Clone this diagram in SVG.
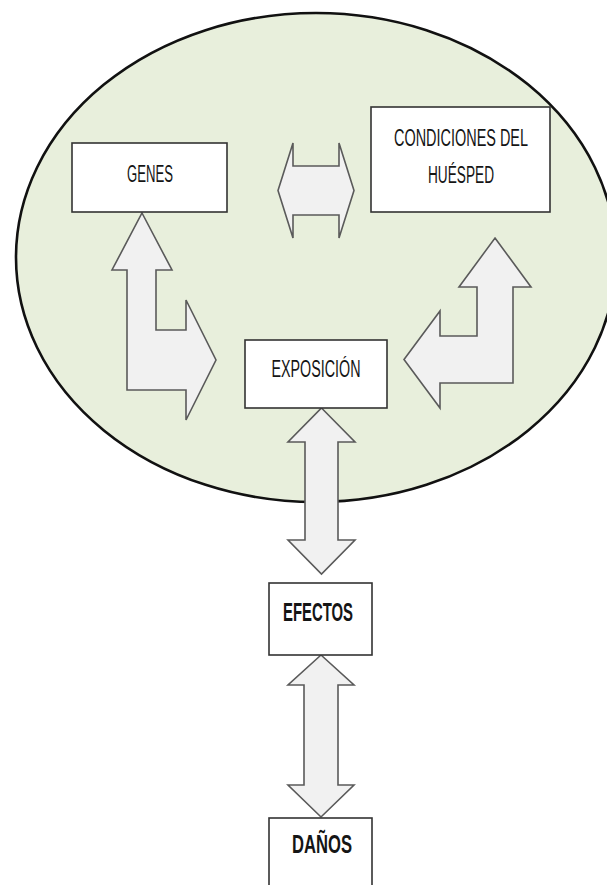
<svg xmlns="http://www.w3.org/2000/svg" width="607" height="885" viewBox="0 0 607 885">
  <style>
    .box { fill: #ffffff; stroke: #333333; stroke-width: 1.6; }
    .arrow { fill: #f1f1f1; stroke: #5a5a5a; stroke-width: 1.6; stroke-linejoin: miter; }
    .lbl { font-family: "Liberation Sans", Arial, sans-serif; font-size: 23px; fill: #151515; text-anchor: middle; }
    .bold { font-weight: bold; font-size: 26px; }
  </style>

  <rect x="0" y="0" width="607" height="885" fill="#ffffff"/>

  <!-- surrounding context area -->
  <g id="context">
    <ellipse cx="316" cy="257.5" rx="300" ry="244.5" fill="#e8efdc" stroke="#111111" stroke-width="2.6"/>
  </g>

  <!-- block arrows linking the nodes -->
  <g id="connectors">
    <!-- GENES <-> CONDICIONES DEL HUÉSPED -->
    <polygon class="arrow" points="278,190.5 293,143 293,166 339,166 339,143 354,190.5 339,238 339,215 293,215 293,238"/>
    <!-- GENES <-> EXPOSICIÓN -->
    <polygon class="arrow" points="142,213 172,270 156,270 156,330 186,330 186,300 216,360 186,420 186,390 127,390 127,270 112,270"/>
    <!-- EXPOSICIÓN <-> CONDICIONES DEL HUÉSPED -->
    <polygon class="arrow" points="495,238 531,287 513,287 513,383 440,383 440,408 404,359.5 440,311 440,336 477,336 477,287 459,287"/>
    <!-- EXPOSICIÓN <-> EFECTOS -->
    <polygon class="arrow" points="321.5,408 355,442 338,442 338,540 355,540 321.5,574 288,540 305,540 305,442 288,442"/>
    <!-- EFECTOS <-> DAÑOS -->
    <polygon class="arrow" points="321,655 354,685 338,685 338,785 354,785 321,817 288,785 304,785 304,685 288,685"/>
  </g>

  <g id="genes">
    <rect class="box" x="72" y="143" width="155" height="69"/>
    <text class="lbl" x="150" y="182" textLength="46" lengthAdjust="spacingAndGlyphs">GENES</text>
  </g>

  <g id="condiciones">
    <rect class="box" x="371" y="107" width="179" height="105"/>
    <text class="lbl" x="461" y="146" textLength="134" lengthAdjust="spacingAndGlyphs">CONDICIONES DEL</text>
    <text class="lbl" x="461" y="183" textLength="66" lengthAdjust="spacingAndGlyphs">HUÉSPED</text>
  </g>

  <g id="exposicion">
    <rect class="box" x="245" y="340" width="142" height="68"/>
    <text class="lbl" x="316" y="377" textLength="89" lengthAdjust="spacingAndGlyphs">EXPOSICIÓN</text>
  </g>

  <g id="efectos">
    <rect class="box" x="269" y="583" width="103" height="72"/>
    <text class="lbl bold" x="318" y="621" textLength="70" lengthAdjust="spacingAndGlyphs">EFECTOS</text>
  </g>

  <g id="danos">
    <rect class="box" x="269" y="818" width="103" height="90"/>
    <text class="lbl bold" x="322" y="853" textLength="60" lengthAdjust="spacingAndGlyphs">DAÑOS</text>
  </g>
</svg>
